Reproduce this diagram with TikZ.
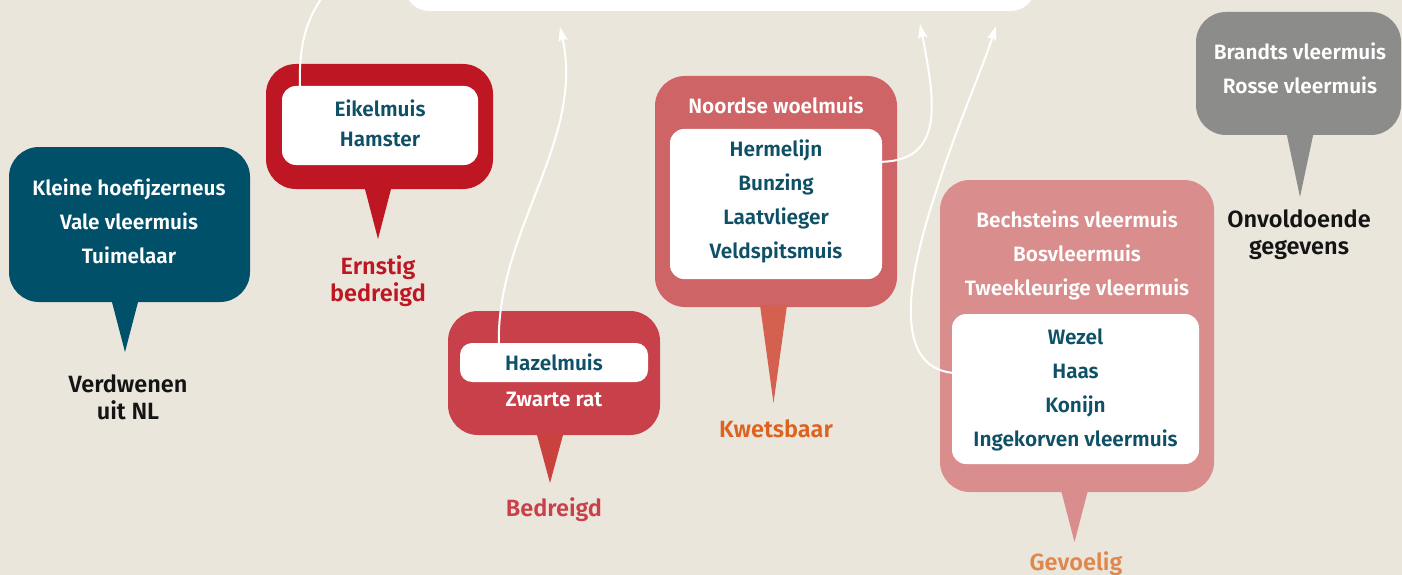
\documentclass[tikz,border=0pt]{standalone}
\usepackage{fontspec}
\setmainfont{Fira Sans}[BoldFont={Fira Sans SemiBold}]
\usetikzlibrary{arrows.meta, calc, positioning}
\definecolor{cBg}{HTML}{EAE6DC}
\definecolor{cTeal}{HTML}{00506A}
\definecolor{cInk}{HTML}{0E5066}
\definecolor{cRed}{HTML}{BE1622}
\definecolor{cRose}{HTML}{C8414A}
\definecolor{cRoseTip}{HTML}{C9423E}
\definecolor{cCoral}{HTML}{CF6466}
\definecolor{cCoralTip}{HTML}{D4614F}
\definecolor{cOrange}{HTML}{DD621E}
\definecolor{cPink}{HTML}{D98D8C}
\definecolor{cPeach}{HTML}{E0874E}
\definecolor{cGrey}{HTML}{8C8C8A}
\definecolor{cBlack}{HTML}{141414}
\newcommand\spfont{\bfseries\fontsize{20.8}{34}\selectfont}
\newcommand\labfont{\bfseries\fontsize{23.5}{27}\selectfont}

\begin{document}
\begin{tikzpicture}[x=1pt, y=-1pt,
  bubble/.style={fill=#1, rounded corners=30pt, inner sep=0pt},
  inbox/.style={fill=white, rounded corners=14pt, inner sep=0pt},
  title/.style={align=center, font=\spfont, text=#1, inner sep=0pt},
  title/.default=white,
  lab/.style={align=center, font=\labfont, text=#1, inner sep=0pt},
  arr/.style={white, line width=2pt, -{Stealth[length=14pt, width=9pt, inset=2pt]}},
  wire/.style={white, line width=2pt}]
  \useasboundingbox (0,0) rectangle (1402,575);
  \fill[cBg] (0,0) rectangle (1402,575);
  % box at the top, cut by the edge
  \node[fill=white, rounded corners=24pt, minimum width=630pt, minimum height=60pt] (top) at (720,-19) {};
  % bubbles and white boxes
  \node[bubble=cTeal, minimum width=241pt, minimum height=155pt] (b1) at (129.5,224.5) {};
  \node[bubble=cRed, minimum width=227pt, minimum height=125pt] (b2) at (379.5,126.5) {};
  \node[inbox, minimum width=196pt, minimum height=79pt] (i2) at (380,125.5) {};
  \node[bubble=cRose, minimum width=212pt, minimum height=124pt] (b3) at (554,373) {};
  \node[inbox, rounded corners=12pt, minimum width=188pt, minimum height=39pt] (i3) at (554,362.5) {};
  \node[bubble=cCoral, minimum width=242pt, minimum height=231pt] (b4) at (776,191.5) {};
  \node[inbox, minimum width=212pt, minimum height=150pt] (i4) at (776,204) {};
  \node[bubble=cPink, minimum width=274pt, minimum height=312pt] (b5) at (1077,336) {};
  \node[inbox, minimum width=247pt, minimum height=150pt] (i5) at (1075.5,389) {};
  \node[bubble=cGrey, minimum width=205pt, minimum height=123pt] (b6) at (1298.5,73.5) {};
  % texts
  \node[title] (n1) at (129,221.5) {Kleine hoefijzerneus\\Vale vleermuis\\Tuimelaar};
  \node[title=cInk, font=\bfseries\fontsize{20.8}{30}\selectfont] (n2) at (380,123.5) {Eikelmuis\\Hamster};
  \node[title=cInk] (n3) at (554,362) {Hazelmuis};
  \node[title] (z3) at (554,399) {Zwarte rat};
  \node[title] (n4) at (776,105.5) {Noordse woelmuis};
  \node[title=cInk] (m4) at (776,201) {Hermelijn\\Bunzing\\Laatvlieger\\Veldspitsmuis};
  \node[title] (n5) at (1077,255.5) {Bechsteins vleermuis\\Bosvleermuis\\Tweekleurige vleermuis};
  \node[title=cInk] (m5) at (1075.5,389.5) {Wezel\\Haas\\Konijn\\Ingekorven vleermuis};
  \node[title] (n6) at (1300,68) {Brandts vleermuis\\Rosse vleermuis};
  % pointer tips
  \coordinate (t1) at (125,352);
  \coordinate (t2) at (378,239);
  \coordinate (t3) at (550,483);
  \coordinate (t4) at (773.5,403);
  \coordinate (t5) at (1074.5,542);
  \coordinate (t6) at (1300,197);
  \foreach \b/\t/\c in {b1/t1/cTeal, b2/t2/cRed, b3/t3/cRoseTip, b4/t4/cCoralTip, b5/t5/cPink, b6/t6/cGrey}
    \fill[\c] ($(\t |- \b.south)+(-13.5,-2)$) -- (\t) -- ($(\t |- \b.south)+(13.5,-2)$) -- cycle;
  % labels
  \node[lab=cBlack] (l1) at (128,397) {Verdwenen\\uit NL};
  \node[lab=cRed] (l2) at (378,281) {Ernstig\\bedreigd};
  \node[lab=cRose] (l3) at (554,509.5) {Bedreigd};
  \node[lab=cOrange] (l4) at (776,428.5) {Kwetsbaar};
  \node[lab=cPeach] (l5) at (1076,563.5) {Gevoelig};
  \node[lab=cBlack] (l6) at (1299,234.5) {Onvoldoende\\gegevens};
  % links to the top box
  \coordinate (a1) at (323,-4);
  \coordinate (a2) at (560,27);
  \coordinate (a3) at (920,24);
  \coordinate (a4) at (996,26);
  \draw[wire] ($(i2.north west)+(18,0)$) .. controls (299,40) and (308,18) .. (a1);
  \draw[arr] ($(i3.north west)+(39,0)$) .. controls (497,230) and (585,140) .. (a2);
  \draw[arr] ($(i4.north east)+(0,33)$) .. controls (945,160) and (935,100) .. (a3);
  \draw[arr] ($(i5.north west)+(0,59)$) .. controls (895,366) and (905,285) .. (935,195)
    .. controls (955,130) and (982,70) .. (a4);
\end{tikzpicture}
\end{document}
